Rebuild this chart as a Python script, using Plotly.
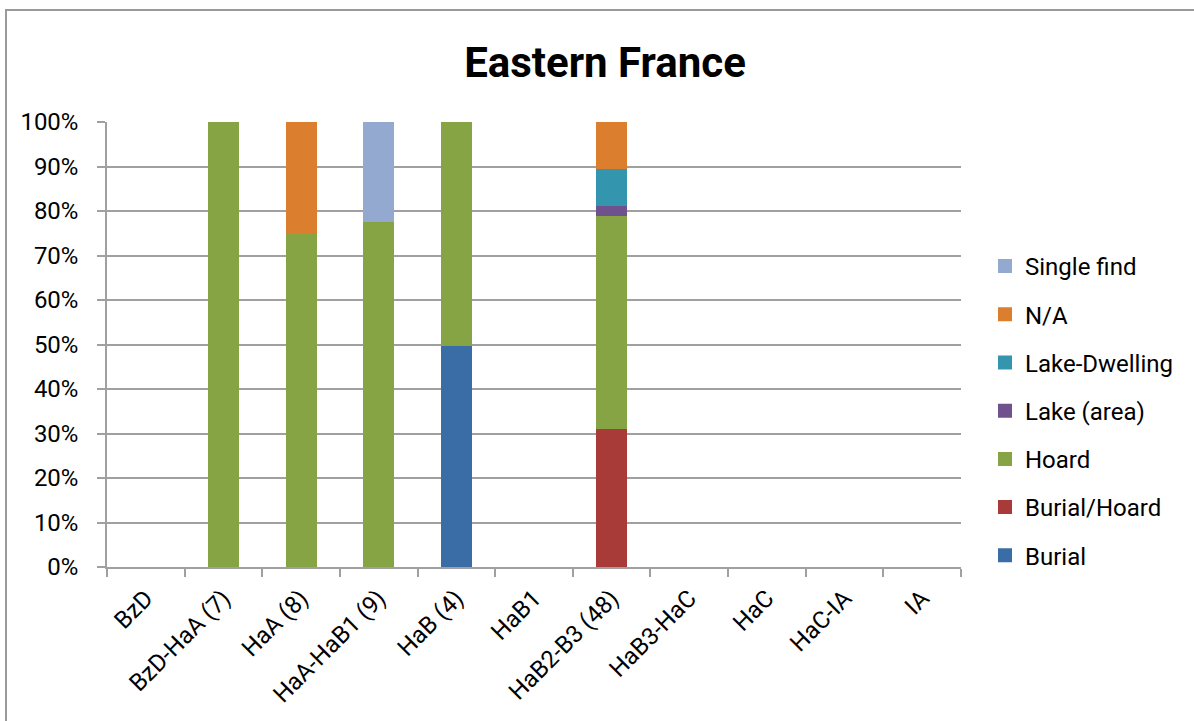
import plotly.graph_objects as go

categories = ["BzD", "BzD-HaA (7)", "HaA (8)", "HaA-HaB1 (9)", "HaB (4)", "HaB1",
              "HaB2-B3 (48)", "HaB3-HaC", "HaC", "HaC-IA", "IA"]

# counts per category (shown as percent of each category)
burial       = [0, 0, 0, 0, 2, 0, 0, 0, 0, 0, 0]
burial_hoard = [0, 0, 0, 0, 0, 0, 15, 0, 0, 0, 0]
hoard        = [0, 7, 6, 7, 2, 0, 23, 0, 0, 0, 0]
lake_area    = [0, 0, 0, 0, 0, 0, 1, 0, 0, 0, 0]
lake_dwell   = [0, 0, 0, 0, 0, 0, 4, 0, 0, 0, 0]
na           = [0, 0, 2, 0, 0, 0, 5, 0, 0, 0, 0]
single_find  = [0, 0, 0, 2, 0, 0, 0, 0, 0, 0, 0]

y_ticks = [0, 10, 20, 30, 40, 50, 60, 70, 80, 90, 100]
y_tick_labels = ["0%", "10%", "20%", "30%", "40%", "50%", "60%", "70%", "80%", "90%", "100%"]

series = [
    ("Burial", burial, "#3A6DA6"),
    ("Burial/Hoard", burial_hoard, "#A83B37"),
    ("Hoard", hoard, "#87A444"),
    ("Lake (area)", lake_area, "#6F518E"),
    ("Lake-Dwelling", lake_dwell, "#3496AE"),
    ("N/A", na, "#DB7F2E"),
    ("Single find", single_find, "#93A9D0"),
]

FONT = "Roboto, sans-serif"

fig = go.Figure()
n = len(series)
for i, (name, vals, color) in enumerate(series):
    fig.add_trace(go.Bar(
        name=name, x=categories, y=[v if v else None for v in vals],
        marker_color=color, marker_line=dict(color=color, width=2),
        legendgroup="g%d" % i, legendrank=n - i,
    ))

W, H = 1194, 721
L, R, T, B = 107, 961, 122, 567

fig.update_layout(
    width=W, height=H,
    barmode="stack", barnorm="percent", bargap=0.625,
    plot_bgcolor="white", paper_bgcolor="white",
    margin=dict(l=L, r=W - R, t=T, b=H - B, autoexpand=False),
    font=dict(family=FONT, size=24, color="black"),
    title=dict(text="<b>Eastern France</b>", x=605 / W, xanchor="center",
               y=1 - 62 / H, yanchor="middle",
               font=dict(family=FONT, size=42, color="black")),
    legend=dict(traceorder="grouped", x=(985 - L) / (R - L), xanchor="left",
                y=(B - 244) / (B - T), yanchor="top",
                font=dict(family=FONT, size=24), tracegroupgap=14,
                itemwidth=30, bgcolor="rgba(0,0,0,0)"),
    showlegend=True,
)

fig.update_yaxes(range=[0, 100], tickmode="array", tickvals=y_ticks, ticktext=y_tick_labels,
                 showgrid=True, gridcolor="#A0A0A0", gridwidth=1.5,
                 showline=True, linecolor="#A0A0A0", linewidth=1.5,
                 ticks="outside", ticklen=8, tickcolor="#A0A0A0", tickwidth=1.5,
                 ticklabelstandoff=14,
                 zeroline=False, tickfont=dict(family=FONT, size=24))
fig.update_xaxes(tickangle=-45, showline=True, linecolor="#A0A0A0", linewidth=1.5,
                 ticks="outside", ticklen=8, tickcolor="#A0A0A0", tickwidth=1.5,
                 tickson="boundaries", showgrid=False, ticklabelstandoff=6,
                 tickfont=dict(family=FONT, size=24))

# outer chart frame
fig.add_shape(type="rect", xref="paper", yref="paper",
              x0=(6 - L) / (R - L), x1=(1210 - L) / (R - L),
              y0=(B - 740) / (B - T), y1=(B - 10) / (B - T),
              line=dict(color="#9A9A9A", width=2), fillcolor="rgba(0,0,0,0)", layer="below")

fig.write_html("out.html", config={"displayModeBar": False},
               post_script="document.body.style.margin='0';")
